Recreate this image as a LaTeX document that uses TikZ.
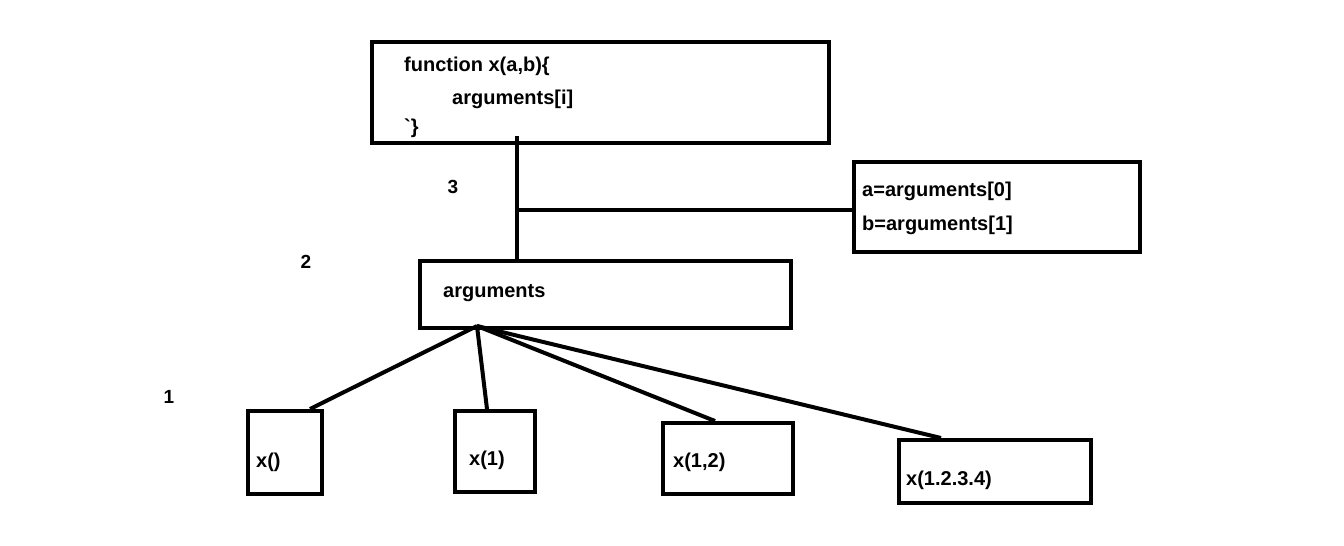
\documentclass[tikz,border=0pt]{standalone}
\usepackage{fontspec}
\setmainfont{Liberation Sans}
\usetikzlibrary{positioning, calc}

\begin{document}
\begin{tikzpicture}[
      x=1pt, y=-1pt,
      box/.style={draw, line width=4pt, rectangle, inner sep=0pt},
      txt/.style={anchor=west, inner sep=0pt, font=\fontsize{20}{24}\selectfont\bfseries},
      num/.style={inner sep=0pt, font=\fontsize{19}{23}\selectfont\bfseries},
      link/.style={draw, line width=4pt},
  ]
      \useasboundingbox (0,0) rectangle (1344,546);

      % Top: function box
      \node[box, minimum width=457pt, minimum height=101pt] (func) at (600.5,92.5) {};
      \node[txt] (functxt) at (404,66) {function x(a,b)\{};
      \node[txt] (argitxt) at (452,99) {arguments[i]};
      \node[txt] (closetxt) at (404,128) {\textasciigrave\}};

      % Right: assignment box
      \node[box, minimum width=286pt, minimum height=90pt] (assign) at (997,207) {};
      \node[txt] (atxt) at (862,191) {a=arguments[0]};
      \node[txt] (btxt) at (862,225) {b=arguments[1]};

      % Middle: arguments box
      \node[box, minimum width=371pt, minimum height=67pt] (args) at (605.5,294.5) {};
      \node[txt] (argstxt) at (443,293) {arguments};

      % Bottom row: calls
      \node[box, minimum width=74pt, minimum height=83pt] (xa) at (285,452.5) {};
      \node[box, minimum width=80pt, minimum height=81pt] (xb) at (495,451.5) {};
      \node[box, minimum width=130pt, minimum height=71pt] (xc) at (728,458.5) {};
      \node[box, minimum width=192pt, minimum height=63pt] (xd) at (995,471.5) {};
      \node[txt] (xatxt) at (256,462) {x()};
      \node[txt] (xbtxt) at (469,460) {x(1)};
      \node[txt] (xctxt) at (673,462) {x(1,2)};
      \node[txt] (xdtxt) at (906,480) {x(1.2.3.4)};

      % Step numbers
      \node[num] (three) at (453,187) {3};
      \node[num] (two) at (306,262) {2};
      \node[num] (one) at (169,397) {1};

      % Trunk from function box down to arguments, branch to assignment box
      \coordinate (trunk) at (517,136);
      \coordinate (fork) at (517,210);
      \draw[link] (trunk) -- (args.north -| trunk);
      \draw[link] (fork) -- (assign.west |- fork);

      % Arguments fan out to calls
      \coordinate (hub) at (477,326);
      \draw[link] (hub) -- (xa.north -| 310,0);
      \draw[link] (hub) -- (xb.north -| 487,0);
      \draw[link] (hub) -- (xc.north -| 715,0);
      \draw[link] (hub) -- (xd.north -| 941,0);

\end{tikzpicture}
\end{document}
